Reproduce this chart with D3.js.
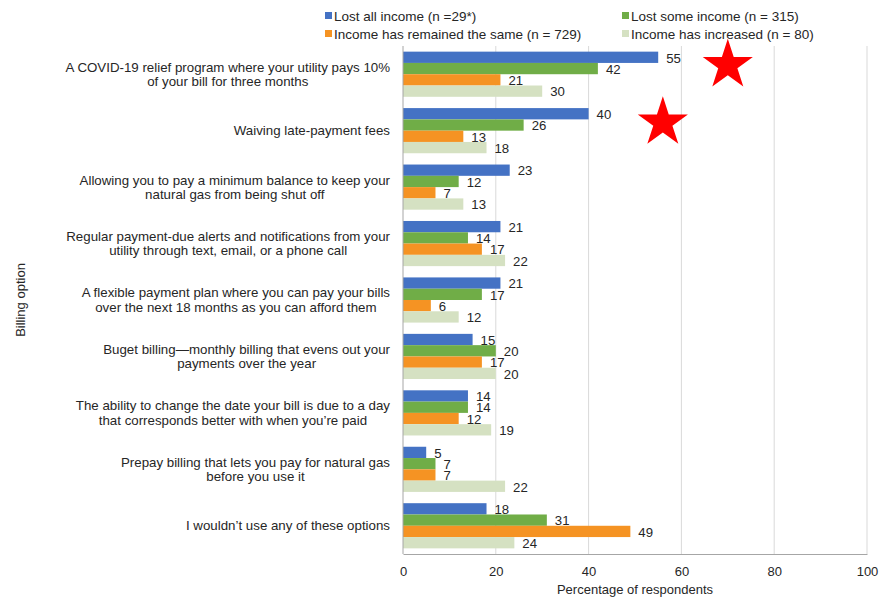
<!DOCTYPE html>
<html>
<head>
<meta charset="utf-8">
<script src="https://cdn.jsdelivr.net/npm/d3@7"></script>
<style>
  html, body { margin: 0; padding: 0; background: #fff; }
  svg { display: block; font-family: "Liberation Sans", Arial, sans-serif; }
</style>
</head>
<body>
<svg id="chart" width="881" height="597"></svg>
<script>
// ---- Data ----
const categories = [
  ["A COVID-19 relief program where your utility pays 10%", "of your bill for three months"],
  ["Waiving late-payment fees"],
  ["Allowing you to pay a minimum balance to keep your", "natural gas from being shut off"],
  ["Regular payment-due alerts and notifications from your", "utility through text, email, or a phone call"],
  ["A flexible payment plan where you can pay your bills", "over the next 18 months as you can afford them"],
  ["Buget billing\u2014monthly billing that evens out your", "payments over the year"],
  ["The ability to change the date your bill is due to a day", "that corresponds better with when you\u2019re paid"],
  ["Prepay billing that lets you pay for natural gas", "before you use it"],
  ["I wouldn\u2019t use any of these options"]
];
const seriesNames = [
  "Lost all income (n =29*)",
  "Lost some income (n = 315)",
  "Income has remained the same (n = 729)",
  "Income has increased (n = 80)"
];
const lostAll      = [55, 40, 23, 21, 21, 15, 14, 5, 18];
const lostSome     = [42, 26, 12, 14, 17, 20, 14, 7, 31];
const remainedSame = [21, 13, 7, 17, 6, 17, 12, 7, 49];
const increased    = [30, 18, 13, 22, 12, 20, 19, 22, 24];
const xTicks = [0, 20, 40, 60, 80, 100];
// star annotations: [value on x axis, category index, offset within band (0..1)]
const stars = [[70, 0, 0.3], [56, 1, 0.32]];

const colors = ["#4472c4", "#70ad47", "#f59323", "#d5e1c2"];
const seriesValues = [lostAll, lostSome, remainedSame, increased];

// ---- Layout ----
const svg = d3.select("#chart");
const plot = { left: 403, right: 867, top: 46, bottom: 554 };

const x = d3.scaleLinear().domain([0, 100]).range([plot.left, plot.right]);
const y0 = d3.scaleBand().domain(d3.range(categories.length))
  .range([plot.top, plot.bottom]).paddingInner(0.2).paddingOuter(0.1);
const y1 = d3.scaleBand().domain(d3.range(seriesNames.length))
  .range([0, y0.bandwidth()]);

// gridlines
svg.append("g").selectAll("line").data(xTicks.filter(d => d > 0)).join("line")
  .attr("x1", d => x(d)).attr("x2", d => x(d))
  .attr("y1", plot.top).attr("y2", plot.bottom)
  .attr("stroke", "#d9d9d9").attr("stroke-width", 1);

// bars
const groups = svg.append("g").selectAll("g").data(categories).join("g")
  .attr("transform", (d, i) => `translate(0,${y0(i)})`);

groups.each(function(c, ci) {
  const g = d3.select(this);
  seriesValues.forEach((vals, si) => {
    g.append("rect")
      .attr("x", x(0))
      .attr("y", y1(si))
      .attr("width", x(vals[ci]) - x(0))
      .attr("height", y1.bandwidth())
      .attr("fill", colors[si]);
    g.append("text")
      .attr("x", x(vals[ci]) + 8)
      .attr("y", y1(si) + y1.bandwidth() / 2 + 0.5)
      .attr("dy", "0.36em")
      .attr("font-size", 13.2)
      .attr("fill", "#262626")
      .text(vals[ci]);
  });
});

// axes lines
svg.append("line").attr("x1", x(0)).attr("x2", x(0))
  .attr("y1", plot.top).attr("y2", plot.bottom)
  .attr("stroke", "#a6a6a6");
const xAxis = d3.axisBottom(x).tickValues(xTicks).tickSize(0).tickPadding(13);
const xg = svg.append("g").attr("transform", `translate(0,${plot.bottom})`).call(xAxis);
xg.select(".domain").attr("stroke", "#a6a6a6");
xg.selectAll("text").attr("font-size", 13).attr("fill", "#262626")
  .attr("font-family", "Liberation Sans, Arial, sans-serif");

// axis titles
svg.append("text")
  .attr("x", (plot.left + plot.right) / 2).attr("y", 594)
  .attr("text-anchor", "middle").attr("font-size", 13).attr("fill", "#262626")
  .text("Percentage of respondents");
svg.append("text")
  .attr("transform", `translate(25,${(plot.top + plot.bottom) / 2}) rotate(-90)`)
  .attr("text-anchor", "middle").attr("font-size", 13).attr("fill", "#262626")
  .text("Billing option");

// category labels: block right-aligned at 390, lines centered within block
const labelRight = 390;
const lineH = 14.5;
categories.forEach((lines, ci) => {
  const cy = y0(ci) + y0.bandwidth() / 2;
  const t = svg.append("text").attr("font-size", 13.3).attr("fill", "#262626")
    .attr("text-anchor", "middle");
  const spans = lines.map((ln, li) => t.append("tspan")
    .attr("y", cy + (li - (lines.length - 1) / 2) * lineH)
    .attr("dy", "0.35em")
    .text(ln));
  const maxW = d3.max(spans, s => s.node().getComputedTextLength());
  spans.forEach(s => s.attr("x", labelRight - maxW / 2));
});

// legend
const legendPos = [[325, 16], [622, 16], [325, 34], [622, 34]];
seriesNames.forEach((name, i) => {
  const [lx, ly] = legendPos[i];
  svg.append("rect").attr("x", lx).attr("y", ly - 4).attr("width", 7).attr("height", 7)
    .attr("fill", colors[i]);
  svg.append("text").attr("x", lx + 9).attr("y", ly).attr("dy", "0.35em")
    .attr("font-size", 13.5).attr("fill", "#262626").text(name);
});

// star annotations
const starSym = d3.symbol().type(d3.symbolStar).size(780);
stars.forEach(([v, ci, off]) => {
  svg.append("path")
    .attr("d", starSym())
    .attr("transform", `translate(${x(v)},${y0(ci) + y0.bandwidth() * off})`)
    .attr("fill", "#ff0000");
});
</script>
</body>
</html>
